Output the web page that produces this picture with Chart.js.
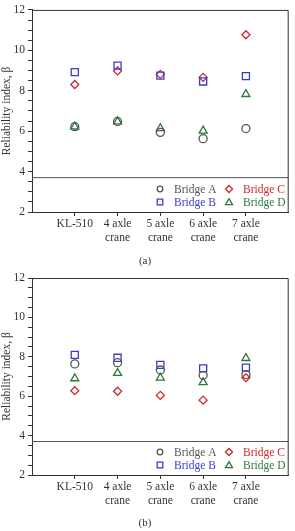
<!DOCTYPE html>
<html><head><meta charset="utf-8">
<script src="https://cdn.jsdelivr.net/npm/chart.js@4/dist/chart.umd.min.js"></script>
<style>
html,body{margin:0;padding:0;background:#fff;}
.wrap{position:absolute;left:0;width:295px;}
canvas{display:block;}
</style></head>
<body>
<div class="wrap" style="top:0;height:268px;"><canvas id="ca" width="295" height="268"></canvas></div>
<div class="wrap" style="top:268px;height:263px;"><canvas id="cb" width="295" height="263"></canvas></div>
<script>
const categories = [['KL-510'], ['4 axle', 'crane'], ['5 axle', 'crane'], ['6 axle', 'crane'], ['7 axle', 'crane']];
const seriesNames = ['Bridge A', 'Bridge B', 'Bridge C', 'Bridge D'];
const yTickLabels = [2, 4, 6, 8, 10, 12];
const targetBeta = 3.7;

const aBridgeA = [6.22, 6.48, 5.94, 5.63, 6.13];
const aBridgeB = [8.92, 9.24, 8.75, 8.46, 8.72];
const aBridgeC = [8.31, 8.98, 8.81, 8.66, 10.77];
const aBridgeD = [6.22, 6.47, 6.14, 6.02, 7.83];

const bBridgeA = [7.64, 7.70, 7.33, 7.06, 7.10];
const bBridgeB = [8.10, 7.95, 7.59, 7.41, 7.45];
const bBridgeC = [6.28, 6.25, 6.04, 5.80, 6.94];
const bBridgeD = [6.90, 7.17, 6.93, 6.70, 7.93];

const colors = ['#555555', '#3a3ad0', '#d02828', '#2a7a3a'];
const styles = ['circle', 'rect', 'rectRot', 'triangle'];
const radii = [4, 5, 4, 4.6];
const FONT = "'Liberation Serif','Times New Roman',serif";

function pts(arr){ return arr.map((v,i)=>({x:i+1, y:v})); }

const boxPlugin = {
  id:'box',
  afterDraw(chart, args, opts){
    const {ctx, chartArea:a} = chart;
    ctx.save();
    ctx.strokeStyle = '#333'; ctx.lineWidth = 1;
    ctx.beginPath();
    ctx.moveTo(a.left, a.top+0.5); ctx.lineTo(a.right-0.5, a.top+0.5); ctx.lineTo(a.right-0.5, a.bottom);
    ctx.stroke();
    // legend
    const rows = [[0,2],[1,3]];
    const colX = [a.left+128, a.left+197];
    const rowY = [a.bottom-23, a.bottom-10];
    ctx.font = '11.5px ' + FONT;
    ctx.textBaseline = 'middle';
    rows.forEach((r, ri)=>{
      r.forEach((si, ci)=>{
        const x = colX[ci], y = rowY[ri];
        ctx.strokeStyle = colors[si]; ctx.lineWidth = 1.3;
        ctx.beginPath();
        const s = styles[si];
        if (s==='circle'){ ctx.arc(x,y,2.8,0,Math.PI*2); }
        else if (s==='rect'){ ctx.rect(x-2.8,y-2.8,5.6,5.6); }
        else if (s==='rectRot'){ ctx.moveTo(x,y-3.5);ctx.lineTo(x+3.5,y);ctx.lineTo(x,y+3.5);ctx.lineTo(x-3.5,y);ctx.closePath(); }
        else { ctx.moveTo(x,y-3.3);ctx.lineTo(x+3.5,y+2.6);ctx.lineTo(x-3.5,y+2.6);ctx.closePath(); }
        ctx.stroke();
        ctx.fillStyle = colors[si];
        ctx.fillText(seriesNames[si], x+14, y+0.5);
      });
    });
    // panel label
    ctx.fillStyle = '#333';
    ctx.textAlign = 'center';
    ctx.font = '11px ' + FONT;
    ctx.fillText(opts.label, 145, a.bottom + opts.labelOffset);
    ctx.restore();
  }
};

function makeChart(id, series, label, topPad, labelOffset){
  const datasets = series.map((arr, i)=>({
    label: seriesNames[i],
    data: pts(arr),
    showLine:false,
    pointStyle: styles[i],
    pointRadius: radii[i],
    pointHoverRadius: radii[i],
    pointBorderWidth: 1.3,
    borderColor: colors[i],
    backgroundColor: 'rgba(0,0,0,0)'
  }));
  datasets.unshift({
    label:'target',
    type:'line',
    data:[{x:0,y:targetBeta},{x:categories.length+1,y:targetBeta}],
    borderColor:'#555', borderWidth:1, pointRadius:0, fill:false
  });
  return new Chart(document.getElementById(id), {
    type:'scatter',
    data:{datasets},
    options:{
      responsive:false, animation:false,
      layout:{padding:{top:topPad, right:6, left:0, bottom:0}},
      plugins:{legend:{display:false}, tooltip:{enabled:false}, box:{label, labelOffset}},
      scales:{
        x:{
          type:'linear', min:0, max:categories.length+1,
          afterBuildTicks(s){ s.ticks = categories.map((_,i)=>({value:i+1})); },
          afterFit(s){ s.height = 56; },
          ticks:{autoSkip:false, maxRotation:0, padding:1, color:'#333',
            font:{family:FONT, size:11.5}, callback:(v)=>categories[v-1]},
          grid:{drawOnChartArea:false, tickLength:4, color:'#333'},
          border:{color:'#333', width:1}
        },
        y:{
          min:2, max:12,
          afterBuildTicks(s){ const t=[]; for(let v=2; v<=12.001; v+=0.5) t.push({value:v}); s.ticks=t; },
          afterFit(s){ s.width = 32; },
          ticks:{autoSkip:false, padding:3, color:'#333', font:{family:FONT, size:11.5},
            callback:(v)=> yTickLabels.includes(v) ? String(v) : ''},
          grid:{drawOnChartArea:false, tickLength:4, color:'#333'},
          border:{color:'#333', width:1},
          title:{display:true, text:'Reliability index, β', color:'#333', padding:0,
            font:{family:FONT, size:11.5}}
        }
      }
    },
    plugins:[boxPlugin]
  });
}

makeChart('ca', [aBridgeA, aBridgeB, aBridgeC, aBridgeD], '(a)', 8, 49);
makeChart('cb', [bBridgeA, bBridgeB, bBridgeC, bBridgeD], '(b)', 10, 48);
</script>
</body></html>
